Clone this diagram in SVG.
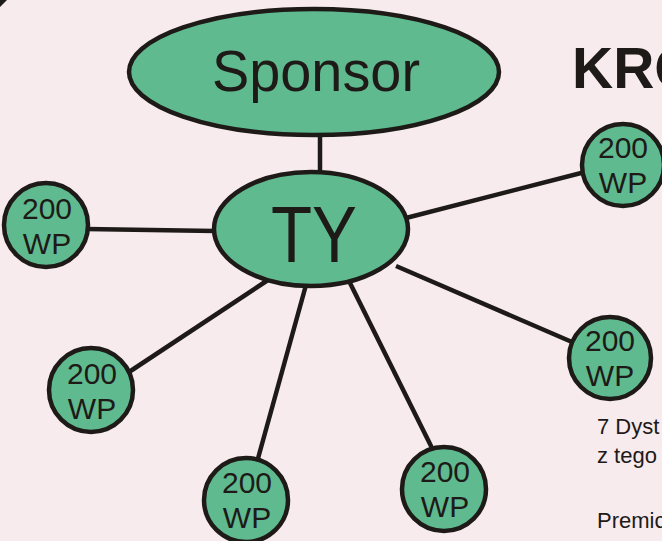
<svg xmlns="http://www.w3.org/2000/svg" width="662" height="541" viewBox="0 0 662 541">
<style>
.node{fill:#5fba8f;stroke:#1e1a17;stroke-width:4.5}
.conn line{stroke:#1e1a17;stroke-width:4.5}
.t{font-family:"Liberation Sans","DejaVu Sans",sans-serif;fill:#1e1a17;text-anchor:middle}
.wp{font-size:30px}
.body{font-family:"Liberation Sans","DejaVu Sans",sans-serif;fill:#1e1a17;font-size:22px}
</style>
<rect width="662" height="541" fill="#f7ebee"/>
<polygon points="0,0 7,0 0,7" fill="#1e1a17"/>
<g id="connectors" class="conn">
<line x1="320" y1="130" x2="320" y2="175"/>
<line x1="86" y1="229" x2="215" y2="231"/>
<line x1="406" y1="218" x2="585" y2="172"/>
<line x1="396" y1="266" x2="572" y2="342"/>
<line x1="268" y1="280" x2="126" y2="374"/>
<line x1="306" y1="285" x2="257" y2="462"/>
<line x1="350" y1="283" x2="433" y2="450"/>
</g>
<g id="sponsor">
<ellipse class="node" cx="314" cy="72" rx="185" ry="63"/>
<text class="t" x="316" y="91" font-size="57" textLength="208" lengthAdjust="spacingAndGlyphs">Sponsor</text>
</g>
<g id="ty">
<ellipse class="node" cx="311" cy="229" rx="97" ry="57"/>
<text class="t" x="314" y="262" font-size="80" textLength="86" lengthAdjust="spacingAndGlyphs">TY</text>
</g>
<g id="n1">
<circle class="node" cx="46" cy="225" r="42"/>
<text class="t wp" x="47" y="219">200</text>
<text class="t wp" x="47" y="254">WP</text>
</g>
<g id="n2">
<circle class="node" cx="623" cy="165" r="41"/>
<text class="t wp" x="623" y="158">200</text>
<text class="t wp" x="623" y="193">WP</text>
</g>
<g id="n3">
<circle class="node" cx="610" cy="358" r="41"/>
<text class="t wp" x="610" y="351">200</text>
<text class="t wp" x="610" y="386">WP</text>
</g>
<g id="n4">
<circle class="node" cx="91" cy="390" r="42"/>
<text class="t wp" x="92" y="384">200</text>
<text class="t wp" x="92" y="419">WP</text>
</g>
<g id="n5">
<circle class="node" cx="246" cy="500" r="42"/>
<text class="t wp" x="247" y="493">200</text>
<text class="t wp" x="247" y="528">WP</text>
</g>
<g id="n6">
<circle class="node" cx="444" cy="489" r="42"/>
<text class="t wp" x="445" y="482">200</text>
<text class="t wp" x="445" y="517">WP</text>
</g>
<text x="572" y="88" font-family="'Liberation Sans','DejaVu Sans',sans-serif" font-weight="bold" font-size="57" fill="#1e1a17">KRO</text>
<text class="body" x="597" y="434">7 Dyst</text>
<text class="body" x="597" y="463">z tego</text>
<text class="body" x="597" y="528">Premic</text>
</svg>
